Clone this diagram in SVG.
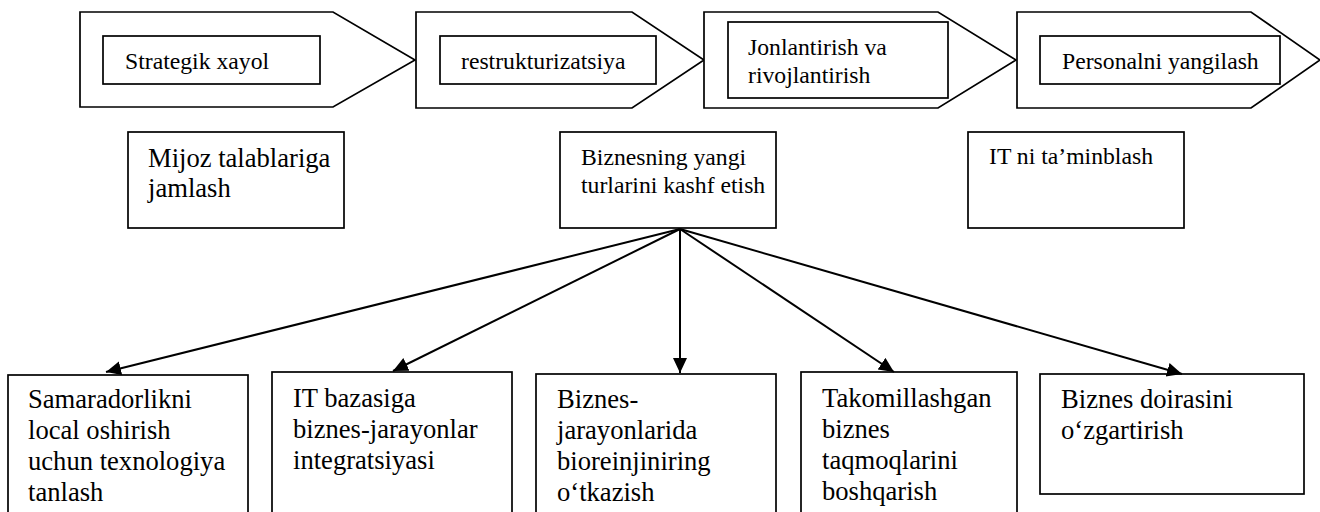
<svg xmlns="http://www.w3.org/2000/svg" width="1320" height="512" viewBox="0 0 1320 512">
  <style>
    .frame { fill: #ffffff; stroke: #000000; stroke-width: 1.7; }
    .box { fill: #ffffff; stroke: #000000; stroke-width: 1.7; }
    text { font-family: 'Liberation Serif', Tinos, 'DejaVu Serif', serif; fill: #000000; }
    .sm { font-size: 23.7px; }
    .lg { font-size: 26.6px; }
    .link { stroke: #000000; stroke-width: 2; fill: none; marker-end: url(#head); }
  </style>
  <defs>
    <marker id="head" markerUnits="userSpaceOnUse" markerWidth="16" markerHeight="15" refX="15" refY="7" orient="auto">
      <path d="M0,0 L15,7 L0,14 Z" fill="#000000"/>
    </marker>
  </defs>

  <rect width="1320" height="512" fill="#ffffff"/>

  <!-- stage chevrons -->
  <g id="stage-strategik">
    <polygon class="frame" points="80,12 333,12 415,60 333,107 80,107"/>
    <rect class="box" x="103" y="36" width="217" height="48"/>
    <text class="sm" x="125" y="69" font-family="Liberation Serif">Strategik xayol</text>
  </g>
  <g id="stage-restrukturizatsiya">
    <polygon class="frame" points="416,12 632,12 704,60 632,108 416,108"/>
    <rect class="box" x="440" y="36" width="216" height="48"/>
    <text class="sm" x="461" y="69">restrukturizatsiya</text>
  </g>
  <g id="stage-jonlantirish">
    <polygon class="frame" points="704,12 938,12 1016,60 938,108 704,108"/>
    <rect class="box" x="728" y="22" width="220" height="76"/>
    <text class="sm" x="748" y="55">Jonlantirish va</text>
    <text class="sm" x="748" y="83">rivojlantirish</text>
  </g>
  <g id="stage-personal">
    <polygon class="frame" points="1017,12 1251,12 1320,60 1251,108 1017,108"/>
    <rect class="box" x="1040" y="36" width="240" height="48"/>
    <text class="sm" x="1062" y="69">Personalni yangilash</text>
  </g>

  <!-- middle row -->
  <g id="mijoz">
    <rect class="box" x="128" y="132" width="216" height="96"/>
    <text class="lg" x="148" y="167">Mijoz talablariga</text>
    <text class="lg" x="148" y="197">jamlash</text>
  </g>
  <g id="biznes-turlari">
    <rect class="box" x="560" y="132" width="216" height="96"/>
    <text class="sm" x="581" y="165">Biznesning yangi</text>
    <text class="sm" x="581" y="193">turlarini kashf etish</text>
  </g>
  <g id="it-taminlash">
    <rect class="box" x="968" y="132" width="216" height="96"/>
    <text class="sm" x="989" y="164">IT ni ta’minblash</text>
  </g>

  <!-- bottom row -->
  <g id="samaradorlik">
    <rect class="box" x="8" y="375" width="240" height="160"/>
    <text class="lg" x="28" y="408">Samaradorlikni</text>
    <text class="lg" x="28" y="439">local oshirish</text>
    <text class="lg" x="28" y="470">uchun texnologiya</text>
    <text class="lg" x="28" y="501">tanlash</text>
  </g>
  <g id="it-bazasi">
    <rect class="box" x="272" y="372" width="240" height="160"/>
    <text class="lg" x="293" y="407">IT bazasiga</text>
    <text class="lg" x="293" y="438">biznes-jarayonlar</text>
    <text class="lg" x="293" y="469">integratsiyasi</text>
  </g>
  <g id="bioreinjiniring">
    <rect class="box" x="536" y="374" width="240" height="160"/>
    <text class="lg" x="557" y="408">Biznes-</text>
    <text class="lg" x="557" y="439">jarayonlarida</text>
    <text class="lg" x="557" y="470">bioreinjiniring</text>
    <text class="lg" x="557" y="501">o‘tkazish</text>
  </g>
  <g id="taqmoqlar">
    <rect class="box" x="801" y="372" width="216" height="160"/>
    <text class="lg" x="822" y="407">Takomillashgan</text>
    <text class="lg" x="822" y="438">biznes</text>
    <text class="lg" x="822" y="469">taqmoqlarini</text>
    <text class="lg" x="822" y="500">boshqarish</text>
  </g>
  <g id="biznes-doirasi">
    <rect class="box" x="1040" y="374" width="264" height="120"/>
    <text class="lg" x="1061" y="408">Biznes doirasini</text>
    <text class="lg" x="1061" y="439">o‘zgartirish</text>
  </g>

  <!-- fan-out connectors -->
  <g id="connectors">
    <line class="link" x1="680" y1="229" x2="106" y2="372"/>
    <line class="link" x1="680" y1="229" x2="393" y2="371"/>
    <line class="link" x1="680" y1="229" x2="680" y2="373"/>
    <line class="link" x1="680" y1="229" x2="894" y2="372"/>
    <line class="link" x1="680" y1="229" x2="1182" y2="374"/>
  </g>
</svg>
